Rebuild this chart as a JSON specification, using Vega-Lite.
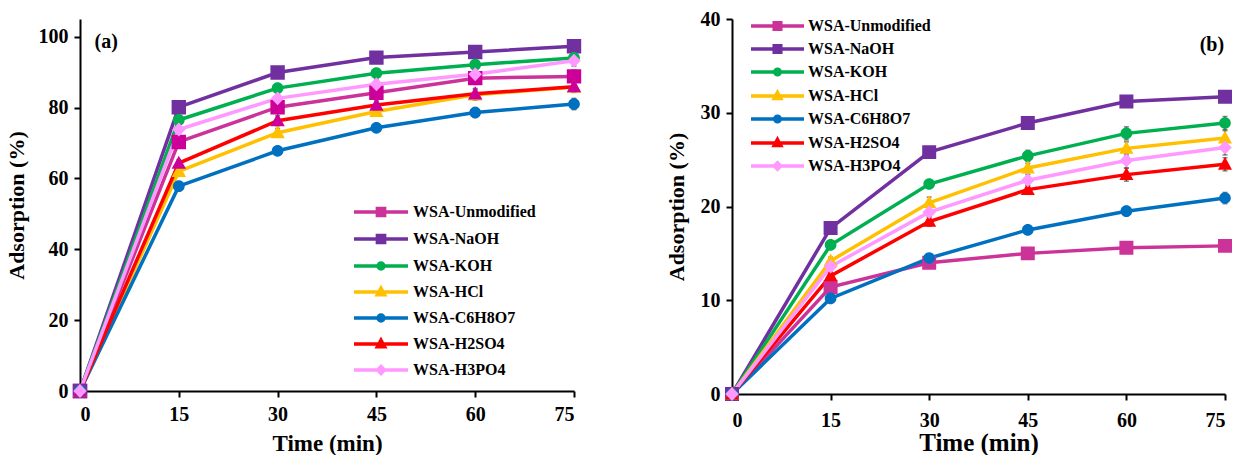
{
  "$schema": "https://vega.github.io/schema/vega-lite/v6.json",
  "background": "white",
  "padding": {"left": 5, "top": 9, "right": 5, "bottom": 0},
  "bounds": "flush",
  "spacing": 158,
  "config": {
    "view": {"stroke": null},
    "font": "Liberation Serif",
    "axis": {
      "grid": false,
      "domainColor": "black",
      "domainWidth": 2,
      "tickColor": "black",
      "tickWidth": 2,
      "tickSize": 6,
      "labelFont": "Liberation Serif",
      "labelFontWeight": "bold",
      "labelFontSize": 20,
      "labelColor": "black",
      "titleFont": "Liberation Serif",
      "titleFontWeight": "bold",
      "titleColor": "black"
    },
    "legend": {
      "labelFont": "Liberation Serif",
      "labelFontWeight": "bold",
      "labelFontSize": 16,
      "labelColor": "black",
      "symbolStrokeWidth": 3.5,
      "padding": 0
    }
  },
  "resolve": {
    "scale": {"color": "independent", "fill": "independent", "shape": "independent", "x": "independent", "y": "independent"},
    "legend": {"color": "independent"}
  },
  "datasets": {
    "a": [
      {"series": "WSA-Unmodified", "time": 0, "value": 0, "err": 0},
      {"series": "WSA-Unmodified", "time": 15, "value": 70.3, "err": 1.2},
      {"series": "WSA-Unmodified", "time": 30, "value": 80.1, "err": 1.3},
      {"series": "WSA-Unmodified", "time": 45, "value": 84.2, "err": 1.2},
      {"series": "WSA-Unmodified", "time": 60, "value": 88.3, "err": 1.6},
      {"series": "WSA-Unmodified", "time": 75, "value": 88.8, "err": 1.8},
      {"series": "WSA-NaOH", "time": 0, "value": 0, "err": 0},
      {"series": "WSA-NaOH", "time": 15, "value": 80.1, "err": 0.8},
      {"series": "WSA-NaOH", "time": 30, "value": 89.9, "err": 0.8},
      {"series": "WSA-NaOH", "time": 45, "value": 94.1, "err": 0.7},
      {"series": "WSA-NaOH", "time": 60, "value": 95.7, "err": 0.8},
      {"series": "WSA-NaOH", "time": 75, "value": 97.3, "err": 0.8},
      {"series": "WSA-KOH", "time": 0, "value": 0, "err": 0},
      {"series": "WSA-KOH", "time": 15, "value": 76.5, "err": 0.8},
      {"series": "WSA-KOH", "time": 30, "value": 85.5, "err": 1.0},
      {"series": "WSA-KOH", "time": 45, "value": 89.7, "err": 1.0},
      {"series": "WSA-KOH", "time": 60, "value": 92.1, "err": 1.0},
      {"series": "WSA-KOH", "time": 75, "value": 94.0, "err": 1.2},
      {"series": "WSA-HCl", "time": 0, "value": 0, "err": 0},
      {"series": "WSA-HCl", "time": 15, "value": 62.0, "err": 1.0},
      {"series": "WSA-HCl", "time": 30, "value": 72.9, "err": 1.2},
      {"series": "WSA-HCl", "time": 45, "value": 78.9, "err": 1.2},
      {"series": "WSA-HCl", "time": 60, "value": 83.6, "err": 1.5},
      {"series": "WSA-HCl", "time": 75, "value": 85.8, "err": 1.5},
      {"series": "WSA-C6H8O7", "time": 0, "value": 0, "err": 0},
      {"series": "WSA-C6H8O7", "time": 15, "value": 57.8, "err": 1.0},
      {"series": "WSA-C6H8O7", "time": 30, "value": 67.8, "err": 1.0},
      {"series": "WSA-C6H8O7", "time": 45, "value": 74.3, "err": 1.2},
      {"series": "WSA-C6H8O7", "time": 60, "value": 78.6, "err": 1.4},
      {"series": "WSA-C6H8O7", "time": 75, "value": 81.0, "err": 1.6},
      {"series": "WSA-H2SO4", "time": 0, "value": 0, "err": 0},
      {"series": "WSA-H2SO4", "time": 15, "value": 64.3, "err": 1.0},
      {"series": "WSA-H2SO4", "time": 30, "value": 76.3, "err": 1.4},
      {"series": "WSA-H2SO4", "time": 45, "value": 80.7, "err": 1.2},
      {"series": "WSA-H2SO4", "time": 60, "value": 83.9, "err": 1.5},
      {"series": "WSA-H2SO4", "time": 75, "value": 85.9, "err": 1.6},
      {"series": "WSA-H3PO4", "time": 0, "value": 0, "err": 0},
      {"series": "WSA-H3PO4", "time": 15, "value": 73.8, "err": 1.0},
      {"series": "WSA-H3PO4", "time": 30, "value": 82.6, "err": 1.2},
      {"series": "WSA-H3PO4", "time": 45, "value": 86.6, "err": 1.2},
      {"series": "WSA-H3PO4", "time": 60, "value": 89.4, "err": 1.4},
      {"series": "WSA-H3PO4", "time": 75, "value": 93.2, "err": 1.5}
    ],
    "b": [
      {"series": "WSA-Unmodified", "time": 0, "value": 0, "err": 0},
      {"series": "WSA-Unmodified", "time": 15, "value": 11.4, "err": 0.3},
      {"series": "WSA-Unmodified", "time": 30, "value": 14.0, "err": 0.3},
      {"series": "WSA-Unmodified", "time": 45, "value": 15.0, "err": 0.3},
      {"series": "WSA-Unmodified", "time": 60, "value": 15.6, "err": 0.4},
      {"series": "WSA-Unmodified", "time": 75, "value": 15.8, "err": 0.4},
      {"series": "WSA-NaOH", "time": 0, "value": 0, "err": 0},
      {"series": "WSA-NaOH", "time": 15, "value": 17.7, "err": 0.4},
      {"series": "WSA-NaOH", "time": 30, "value": 25.8, "err": 0.4},
      {"series": "WSA-NaOH", "time": 45, "value": 28.9, "err": 0.4},
      {"series": "WSA-NaOH", "time": 60, "value": 31.2, "err": 0.5},
      {"series": "WSA-NaOH", "time": 75, "value": 31.7, "err": 0.5},
      {"series": "WSA-KOH", "time": 0, "value": 0, "err": 0},
      {"series": "WSA-KOH", "time": 15, "value": 15.9, "err": 0.4},
      {"series": "WSA-KOH", "time": 30, "value": 22.4, "err": 0.4},
      {"series": "WSA-KOH", "time": 45, "value": 25.4, "err": 0.6},
      {"series": "WSA-KOH", "time": 60, "value": 27.8, "err": 0.7},
      {"series": "WSA-KOH", "time": 75, "value": 28.9, "err": 0.7},
      {"series": "WSA-HCl", "time": 0, "value": 0, "err": 0},
      {"series": "WSA-HCl", "time": 15, "value": 14.2, "err": 0.4},
      {"series": "WSA-HCl", "time": 30, "value": 20.4, "err": 0.6},
      {"series": "WSA-HCl", "time": 45, "value": 24.1, "err": 0.5},
      {"series": "WSA-HCl", "time": 60, "value": 26.2, "err": 0.7},
      {"series": "WSA-HCl", "time": 75, "value": 27.3, "err": 0.8},
      {"series": "WSA-C6H8O7", "time": 0, "value": 0, "err": 0},
      {"series": "WSA-C6H8O7", "time": 15, "value": 10.2, "err": 0.4},
      {"series": "WSA-C6H8O7", "time": 30, "value": 14.5, "err": 0.4},
      {"series": "WSA-C6H8O7", "time": 45, "value": 17.5, "err": 0.4},
      {"series": "WSA-C6H8O7", "time": 60, "value": 19.5, "err": 0.5},
      {"series": "WSA-C6H8O7", "time": 75, "value": 20.9, "err": 0.6},
      {"series": "WSA-H2SO4", "time": 0, "value": 0, "err": 0},
      {"series": "WSA-H2SO4", "time": 15, "value": 12.6, "err": 0.4},
      {"series": "WSA-H2SO4", "time": 30, "value": 18.4, "err": 0.5},
      {"series": "WSA-H2SO4", "time": 45, "value": 21.8, "err": 0.5},
      {"series": "WSA-H2SO4", "time": 60, "value": 23.4, "err": 0.7},
      {"series": "WSA-H2SO4", "time": 75, "value": 24.5, "err": 0.7},
      {"series": "WSA-H3PO4", "time": 0, "value": 0, "err": 0},
      {"series": "WSA-H3PO4", "time": 15, "value": 13.6, "err": 0.4},
      {"series": "WSA-H3PO4", "time": 30, "value": 19.4, "err": 0.5},
      {"series": "WSA-H3PO4", "time": 45, "value": 22.8, "err": 0.6},
      {"series": "WSA-H3PO4", "time": 60, "value": 24.9, "err": 0.8},
      {"series": "WSA-H3PO4", "time": 75, "value": 26.3, "err": 0.8}
    ]
  },
  "hconcat": [
    {
      "width": 494,
      "height": 372,
      "data": {"name": "a"},
      "layer": [
        {"mark": {"type": "errorbar", "ticks": true, "color": "#505050", "thickness": 1.5}, "encoding": {
          "x": {"field": "time", "type": "quantitative", "scale": {"domain": [0, 75], "nice": false},
            "axis": {"values": [0, 15, 30, 45, 60, 75], "title": "Time (min)", "titleFontSize": 23, "labelPadding": 7, "titlePadding": 8}},
          "y": {"field": "value", "type": "quantitative", "scale": {"domain": [0, 105], "nice": false},
            "axis": {"values": [0, 20, 40, 60, 80, 100], "title": "Adsorption (%)", "titleFontSize": 22, "labelPadding": 6, "titlePadding": 10}},
          "yError": {"field": "err"}}},
        {"mark": {"type": "line", "strokeWidth": 3.5}, "encoding": {
          "x": {"field": "time", "type": "quantitative", "scale": {"domain": [0, 75], "nice": false},
            "axis": {"values": [0, 15, 30, 45, 60, 75], "title": "Time (min)", "titleFontSize": 23, "labelPadding": 7, "titlePadding": 8}},
          "y": {"field": "value", "type": "quantitative", "scale": {"domain": [0, 105], "nice": false},
            "axis": {"values": [0, 20, 40, 60, 80, 100], "title": "Adsorption (%)", "titleFontSize": 22, "labelPadding": 6, "titlePadding": 10}},
          "color": {"field": "series", "type": "nominal",
            "scale": {"domain": ["WSA-Unmodified", "WSA-NaOH", "WSA-KOH", "WSA-HCl", "WSA-C6H8O7", "WSA-H2SO4", "WSA-H3PO4"],
              "range": ["#CC3399", "#7030A0", "#00B050", "#FFC000", "#0070C0", "#FF0000", "#FF99FF"]},
            "legend": {"title": null, "orient": "none", "legendX": 287, "legendY": 179, "labelOffset": 18, "symbolSize": 576, "symbolStrokeWidth": 3.5}}
        }},
        {"mark": {"type": "point", "filled": true, "opacity": 1, "size": 2304}, "encoding": {
          "x": {"field": "time", "type": "quantitative", "scale": {"domain": [0, 75], "nice": false},
            "axis": {"values": [0, 15, 30, 45, 60, 75], "title": "Time (min)", "titleFontSize": 23, "labelPadding": 7, "titlePadding": 8}},
          "y": {"field": "value", "type": "quantitative", "scale": {"domain": [0, 105], "nice": false},
            "axis": {"values": [0, 20, 40, 60, 80, 100], "title": "Adsorption (%)", "titleFontSize": 22, "labelPadding": 6, "titlePadding": 10}},
          "shape": {"field": "series", "type": "nominal", "legend": null,
            "scale": {"domain": ["WSA-Unmodified", "WSA-NaOH", "WSA-KOH", "WSA-HCl", "WSA-C6H8O7", "WSA-H2SO4", "WSA-H3PO4"],
              "range": ["M-2.25,0H2.25M-0.3,-0.3H0.3V0.3H-0.3Z", "M-2.25,0H2.25M-0.3,-0.3H0.3V0.3H-0.3Z", "M-2.25,0H2.25M-0.245,0A0.245,0.245,0,1,0,0.245,0A0.245,0.245,0,1,0,-0.245,0Z", "M-2.25,0H2.25M0,-0.315L0.3,0.235L-0.3,0.235Z", "M-2.25,0H2.25M-0.245,0A0.245,0.245,0,1,0,0.245,0A0.245,0.245,0,1,0,-0.245,0Z", "M-2.25,0H2.25M0,-0.315L0.3,0.235L-0.3,0.235Z", "M-2.25,0H2.25M0,-0.29L0.28,0L0,0.29L-0.28,0Z"]}},
          "fill": {"field": "series", "type": "nominal", "legend": null,
            "scale": {"domain": ["WSA-Unmodified", "WSA-NaOH", "WSA-KOH", "WSA-HCl", "WSA-C6H8O7", "WSA-H2SO4", "WSA-H3PO4"],
              "range": ["#CC0099", "#7030A0", "#00B050", "#FFC000", "#0070C0", "#CC0099", "#FF99FF"]}}
        }},
        {"data": {"values": [{"label": "(a)"}]}, "mark": {"type": "text", "font": "Liberation Serif", "fontWeight": "bold", "fontSize": 20, "align": "left", "baseline": "middle", "color": "black"},
          "encoding": {
            "x": {"datum": 2.2, "type": "quantitative", "scale": {"domain": [0, 75], "nice": false},
              "axis": {"values": [0, 15, 30, 45, 60, 75], "title": "Time (min)", "titleFontSize": 23, "labelPadding": 7, "titlePadding": 8}},
            "y": {"datum": 98.6, "type": "quantitative", "scale": {"domain": [0, 105], "nice": false},
              "axis": {"values": [0, 20, 40, 60, 80, 100], "title": "Adsorption (%)", "titleFontSize": 22, "labelPadding": 6, "titlePadding": 10}},
            "text": {"field": "label"}}}
      ]
    },
    {
      "width": 493,
      "height": 375,
      "data": {"name": "b"},
      "layer": [
        {"mark": {"type": "errorbar", "ticks": true, "color": "#505050", "thickness": 1.5}, "encoding": {
          "x": {"field": "time", "type": "quantitative", "scale": {"domain": [0, 75], "nice": false},
            "axis": {"values": [0, 15, 30, 45, 60, 75], "title": "Time (min)", "titleFontSize": 25, "labelPadding": 10, "titlePadding": 0}},
          "y": {"field": "value", "type": "quantitative", "scale": {"domain": [0, 40], "nice": false},
            "axis": {"values": [0, 10, 20, 30, 40], "title": "Adsorption (%)", "titleFontSize": 22, "labelPadding": 6, "titlePadding": 12}},
          "yError": {"field": "err"}}},
        {"mark": {"type": "line", "strokeWidth": 3.5}, "encoding": {
          "x": {"field": "time", "type": "quantitative", "scale": {"domain": [0, 75], "nice": false},
            "axis": {"values": [0, 15, 30, 45, 60, 75], "title": "Time (min)", "titleFontSize": 25, "labelPadding": 10, "titlePadding": 0}},
          "y": {"field": "value", "type": "quantitative", "scale": {"domain": [0, 40], "nice": false},
            "axis": {"values": [0, 10, 20, 30, 40], "title": "Adsorption (%)", "titleFontSize": 22, "labelPadding": 6, "titlePadding": 12}},
          "color": {"field": "series", "type": "nominal",
            "scale": {"domain": ["WSA-Unmodified", "WSA-NaOH", "WSA-KOH", "WSA-HCl", "WSA-C6H8O7", "WSA-H2SO4", "WSA-H3PO4"],
              "range": ["#CC3399", "#7030A0", "#00B050", "#FFC000", "#0070C0", "#FF0000", "#FF99FF"]},
            "legend": {"title": null, "orient": "none", "legendX": 35, "legendY": -3.5, "labelOffset": 20, "symbolSize": 306, "symbolStrokeWidth": 3.5}}
        }},
        {"mark": {"type": "point", "filled": true, "opacity": 1, "size": 1378}, "encoding": {
          "x": {"field": "time", "type": "quantitative", "scale": {"domain": [0, 75], "nice": false},
            "axis": {"values": [0, 15, 30, 45, 60, 75], "title": "Time (min)", "titleFontSize": 25, "labelPadding": 10, "titlePadding": 0}},
          "y": {"field": "value", "type": "quantitative", "scale": {"domain": [0, 40], "nice": false},
            "axis": {"values": [0, 10, 20, 30, 40], "title": "Adsorption (%)", "titleFontSize": 22, "labelPadding": 6, "titlePadding": 12}},
          "shape": {"field": "series", "type": "nominal", "legend": null,
            "scale": {"domain": ["WSA-Unmodified", "WSA-NaOH", "WSA-KOH", "WSA-HCl", "WSA-C6H8O7", "WSA-H2SO4", "WSA-H3PO4"],
              "range": ["M-3.03,0H3.03M-0.377,-0.377H0.377V0.377H-0.377Z", "M-3.03,0H3.03M-0.377,-0.377H0.377V0.377H-0.377Z", "M-3.03,0H3.03M-0.314,0A0.314,0.314,0,1,0,0.314,0A0.314,0.314,0,1,0,-0.314,0Z", "M-3.03,0H3.03M0,-0.402L0.377,0.289L-0.377,0.289Z", "M-3.03,0H3.03M-0.314,0A0.314,0.314,0,1,0,0.314,0A0.314,0.314,0,1,0,-0.314,0Z", "M-3.03,0H3.03M0,-0.402L0.377,0.289L-0.377,0.289Z", "M-3.03,0H3.03M0,-0.377L0.365,0L0,0.377L-0.365,0Z"]}},
          "fill": {"field": "series", "type": "nominal", "legend": null,
            "scale": {"domain": ["WSA-Unmodified", "WSA-NaOH", "WSA-KOH", "WSA-HCl", "WSA-C6H8O7", "WSA-H2SO4", "WSA-H3PO4"],
              "range": ["#CC3399", "#7030A0", "#00B050", "#FFC000", "#0070C0", "#FF0000", "#FF99FF"]}}
        }},
        {"data": {"values": [{"label": "(b)"}]}, "mark": {"type": "text", "font": "Liberation Serif", "fontWeight": "bold", "fontSize": 20, "align": "center", "baseline": "middle", "color": "black"},
          "encoding": {
            "x": {"datum": 73, "type": "quantitative", "scale": {"domain": [0, 75], "nice": false},
              "axis": {"values": [0, 15, 30, 45, 60, 75], "title": "Time (min)", "titleFontSize": 25, "labelPadding": 10, "titlePadding": 0}},
            "y": {"datum": 37.2, "type": "quantitative", "scale": {"domain": [0, 40], "nice": false},
              "axis": {"values": [0, 10, 20, 30, 40], "title": "Adsorption (%)", "titleFontSize": 22, "labelPadding": 6, "titlePadding": 12}},
            "text": {"field": "label"}}}
      ]
    }
  ]
}
